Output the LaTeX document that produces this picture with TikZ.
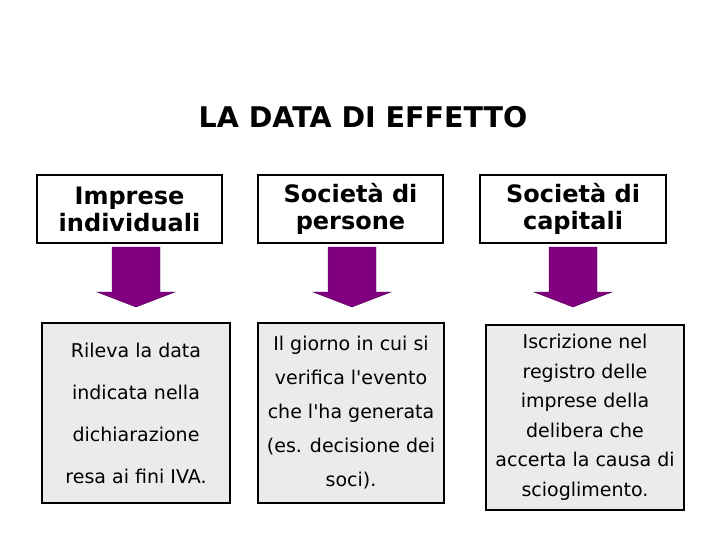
\documentclass[tikz,border=0pt]{standalone}
\usepackage{fontspec}
\setmainfont{DejaVu Sans}
\usetikzlibrary{positioning}
\definecolor{arrowpurple}{RGB}{128,0,128}
\definecolor{boxgray}{RGB}{235,235,235}
\begin{document}
\begin{tikzpicture}
    [
        x=1pt, y=-1pt,
        head_box/.style={draw=black, line width=2.5pt, fill=white, align=center, inner sep=0pt, font=\fontsize{24}{27}\selectfont\bfseries},
        text_box/.style={draw=black, line width=2.5pt, fill=boxgray, align=center, inner sep=0pt},
        down_arrow/.style={fill=arrowpurple, draw=arrowpurple!60!black, line width=0.4pt},
    ]
        \useasboundingbox (0,0) rectangle (720,540);
        \node[font=\fontsize{28.5}{32}\selectfont\bfseries] (title) at (363,117) {LA DATA DI EFFETTO} ;
        % intestazioni
        \node[head_box, minimum width=185pt, minimum height=68pt] (h1) at (129.5,209) {Imprese\\individuali} ;
        \node[head_box, minimum width=185pt, minimum height=68pt] (h2) at (350.5,209) {Società di\\persone} ;
        \node[head_box, minimum width=186pt, minimum height=68pt] (h3) at (573,209) {Società di\\capitali} ;
        % frecce
        \foreach \n/\cx in {a1/136, a2/352, a3/573}
            \draw[down_arrow] (\cx-24,247) -- (\cx+24,247) -- (\cx+24,292) -- (\cx+39,292) -- (\cx,307) -- (\cx-39,292) -- (\cx-24,292) -- cycle ;
        % descrizioni
        \node[text_box, minimum width=188pt, minimum height=180pt, font=\fontsize{19}{42}\selectfont] (t1) at (136,413) {Rileva la data\\indicata nella\\dichiarazione\\resa ai fini IVA.} ;
        \node[text_box, minimum width=186pt, minimum height=180pt, font=\fontsize{19}{34}\selectfont] (t2) at (351,413) {Il giorno in cui si\\verifica l\textquotesingle evento\\che l\textquotesingle ha generata\\(es. decisione dei\\soci).} ;
        \node[text_box, minimum width=198pt, minimum height=185pt, font=\fontsize{19}{29.5}\selectfont] (t3) at (585,417.5) {Iscrizione nel\\registro delle\\imprese della\\delibera che\\accerta la causa di\\scioglimento.} ;
    \end{tikzpicture}
\end{document}
